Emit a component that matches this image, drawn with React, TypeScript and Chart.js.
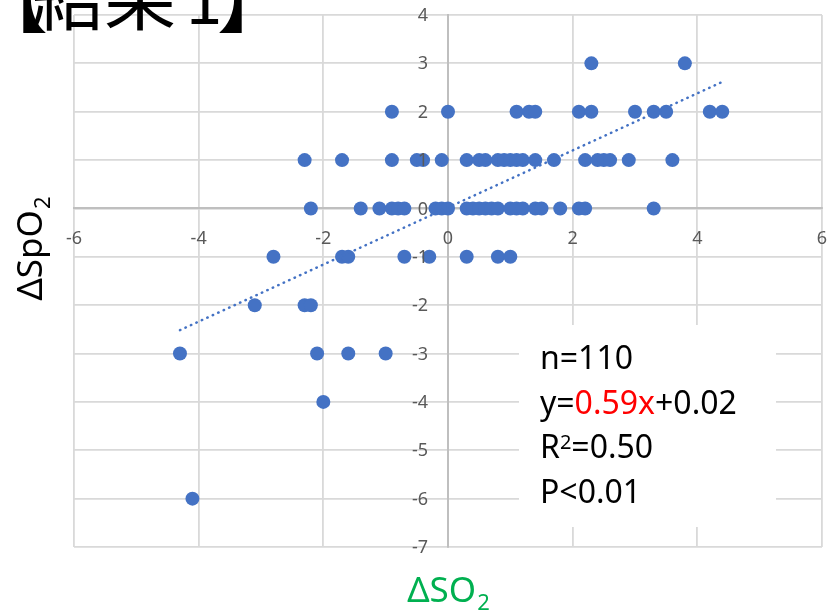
import React, { useEffect, useRef } from "react";
import { Chart, registerables } from "chart.js";

Chart.register(...registerables);

// ---- data ----
const spo2Levels = [3, 2, 1, 0, -1, -2, -3, -4, -6];
const so2AtLevel3 = [2.3, 3.8];
const so2AtLevel2 = [-0.9, 0, 1.1, 1.3, 1.4, 2.1, 2.3, 3.0, 3.3, 3.5, 4.2, 4.4];
const so2AtLevel1 = [-2.3, -1.7, -0.9, -0.5, -0.4, -0.1, 0.3, 0.5, 0.6, 0.8, 0.9, 1.0, 1.1, 1.2, 1.4, 1.7, 2.2, 2.4, 2.5, 2.6, 2.9, 3.6];
const so2AtLevel0 = [-2.2, -1.4, -1.1, -0.9, -0.8, -0.7, -0.2, -0.1, 0, 0.3, 0.4, 0.5, 0.6, 0.7, 0.8, 1.0, 1.1, 1.2, 1.4, 1.5, 1.8, 2.1, 2.2, 3.3];
const so2AtLevelM1 = [-2.8, -1.7, -1.6, -0.7, -0.3, 0.3, 0.8, 1.0];
const so2AtLevelM2 = [-3.1, -2.3, -2.2];
const so2AtLevelM3 = [-4.3, -2.1, -1.6, -1.0];
const so2AtLevelM4 = [-2.0];
const so2AtLevelM6 = [-4.1];
const so2ByLevel = [so2AtLevel3, so2AtLevel2, so2AtLevel1, so2AtLevel0, so2AtLevelM1, so2AtLevelM2, so2AtLevelM3, so2AtLevelM4, so2AtLevelM6];

const trendSlope = 0.59;
const trendIntercept = 0.02;

const xRange = [-6, 6];
const xStep = 2;
const yRange = [-7, 4];
const yStep = 1;

const titleText = ["【", "結果", "1", "】"];
const xTitle = ["ΔSO", "2"];
const yTitle = ["ΔSpO", "2"];
const statN = "n=110";
const statEq = ["y=", "0.59x", "+0.02"];
const statR2 = ["R", "2", "=0.50"];
const statP = "P<0.01";

const BLUE = "#4472c4";
const GRID = "#d9d9d9";
const AXIS = "#bfbfbf";
const TICK = "#595959";
const GREEN = "#00b050";
const FONT = '"Noto Sans", "DejaVu Sans", sans-serif';
const TICK_SIZE = 18;

const textPlugin = {
  id: "textPlugin",
  afterDraw(chart: any) {
    const ctx = chart.ctx as CanvasRenderingContext2D;
    ctx.save();

    // y tick labels (left of the vertical axis, on top of points)
    const ys = chart.scales.y;
    const axisX = chart.scales.x.getPixelForValue(0);
    ctx.fillStyle = TICK;
    ctx.font = `${TICK_SIZE}px ${FONT}`;
    ctx.textAlign = "right";
    ctx.textBaseline = "middle";
    ys.ticks.forEach((t: any) => {
      ctx.fillText(String(t.label), axisX - 20, ys.getPixelForValue(t.value) + 1);
    });

    // title
    ctx.fillStyle = "#000";
    ctx.textBaseline = "alphabetic";
    ctx.font = '74px "Noto Sans CJK JP", sans-serif';
    ctx.textAlign = "right";
    ctx.fillText(titleText[0], 48, 26);
    ctx.font = '72px "Noto Sans CJK JP", sans-serif';
    ctx.textAlign = "left";
    ctx.fillText(titleText[1], 32, 24);
    ctx.font = '66px "Noto Sans CJK JP", sans-serif';
    ctx.textAlign = "center";
    ctx.fillText(titleText[2], 204, 24);
    ctx.font = '74px "Noto Sans CJK JP", sans-serif';
    ctx.textAlign = "left";
    ctx.fillText(titleText[3], 217, 26);

    // x axis title
    ctx.fillStyle = GREEN;
    ctx.font = `35px ${FONT}`;
    ctx.textAlign = "left";
    const xw = ctx.measureText(xTitle[0]).width;
    ctx.font = `22px ${FONT}`;
    const xw2 = ctx.measureText(xTitle[1]).width;
    const xStart = 448 - (xw + xw2) / 2;
    ctx.font = `35px ${FONT}`;
    ctx.fillText(xTitle[0], xStart, 602);
    ctx.font = `22px ${FONT}`;
    ctx.fillText(xTitle[1], xStart + xw + 1, 610);

    // y axis title (rotated)
    ctx.save();
    ctx.fillStyle = "#000";
    ctx.translate(42, 249);
    ctx.rotate(-Math.PI / 2);
    ctx.font = `35px ${FONT}`;
    const yw = ctx.measureText(yTitle[0]).width;
    ctx.font = `22px ${FONT}`;
    const yw2 = ctx.measureText(yTitle[1]).width;
    const yStart = -(yw + yw2) / 2;
    ctx.font = `35px ${FONT}`;
    ctx.fillText(yTitle[0], yStart, 0);
    ctx.font = `22px ${FONT}`;
    ctx.fillText(yTitle[1], yStart + yw + 1, 8);
    ctx.restore();

    // stats box
    ctx.fillStyle = "#fff";
    ctx.fillRect(519, 325, 257, 202);
    ctx.font = `32px ${FONT}`;
    ctx.textAlign = "left";
    ctx.fillStyle = "#000";
    const sx = 540;
    ctx.fillText(statN, sx, 369);
    let cx = sx;
    ctx.fillText(statEq[0], cx, 413.5);
    cx += ctx.measureText(statEq[0]).width;
    ctx.fillStyle = "#ff0000";
    ctx.fillText(statEq[1], cx, 413.5);
    cx += ctx.measureText(statEq[1]).width;
    ctx.fillStyle = "#000";
    ctx.fillText(statEq[2], cx, 413.5);
    cx = sx;
    ctx.fillText(statR2[0], cx, 458);
    cx += ctx.measureText(statR2[0]).width;
    ctx.font = `20px ${FONT}`;
    ctx.fillText(statR2[1], cx, 449);
    cx += ctx.measureText(statR2[1]).width;
    ctx.font = `32px ${FONT}`;
    ctx.fillText(statR2[2], cx, 458);
    ctx.fillText(statP, sx, 503);

    ctx.restore();
  },
};

const zeroPadding = (scale: any) => {
  scale.paddingLeft = 0;
  scale.paddingRight = 0;
  scale.paddingTop = 0;
  scale.paddingBottom = 0;
};

export default function App() {
  const ref = useRef<HTMLCanvasElement | null>(null);

  useEffect(() => {
    if (!ref.current) return;
    const points: { x: number; y: number }[] = [];
    spo2Levels.forEach((lvl, i) => {
      so2ByLevel[i].forEach((x) => points.push({ x, y: lvl }));
    });
    const allX = points.map((p) => p.x);
    const minX = Math.min(...allX);
    const maxX = Math.max(...allX);
    const trend = [
      { x: minX, y: trendSlope * minX + trendIntercept },
      { x: maxX, y: trendSlope * maxX + trendIntercept },
    ];

    const chart = new Chart(ref.current, {
      type: "scatter",
      data: {
        datasets: [
          {
            label: "data",
            data: points,
            backgroundColor: BLUE,
            borderColor: BLUE,
            borderWidth: 0,
            pointRadius: 7,
            pointHoverRadius: 7,
            order: 2,
          },
          {
            label: "trend",
            data: trend,
            showLine: true,
            borderColor: BLUE,
            borderWidth: 2.5,
            borderDash: [0.5, 5.5],
            borderCapStyle: "round",
            pointRadius: 0,
            fill: false,
            order: 1,
          } as any,
        ],
      },
      options: {
        animation: false,
        responsive: false,
        maintainAspectRatio: false,
        layout: { padding: { left: 74, right: 7, top: 15, bottom: 66 } },
        plugins: {
          legend: { display: false },
          tooltip: { enabled: false },
          title: { display: false },
        },
        scales: {
          x: {
            type: "linear",
            min: xRange[0],
            max: xRange[1],
            position: { y: 0 } as any,
            afterFit: zeroPadding,
            grid: { color: GRID, lineWidth: 1.8, drawTicks: false },
            border: { color: AXIS, width: 2 },
            ticks: {
              stepSize: xStep,
              color: TICK,
              font: { family: FONT, size: TICK_SIZE },
              padding: 20,
              z: 1,
            },
          },
          y: {
            type: "linear",
            min: yRange[0],
            max: yRange[1],
            position: { x: 0 } as any,
            afterFit: zeroPadding,
            grid: { color: GRID, lineWidth: 1.8, drawTicks: false },
            border: { color: AXIS, width: 2 },
            ticks: {
              stepSize: yStep,
              display: false,
            },
          },
        },
      },
      plugins: [textPlugin],
    });
    return () => chart.destroy();
  }, []);

  return (
    <div style={{ position: "fixed", left: 0, top: 0, width: 829, height: 613, background: "#fff" }}>
      <canvas ref={ref} width={829} height={613} style={{ width: 829, height: 613, display: "block" }} />
    </div>
  );
}
